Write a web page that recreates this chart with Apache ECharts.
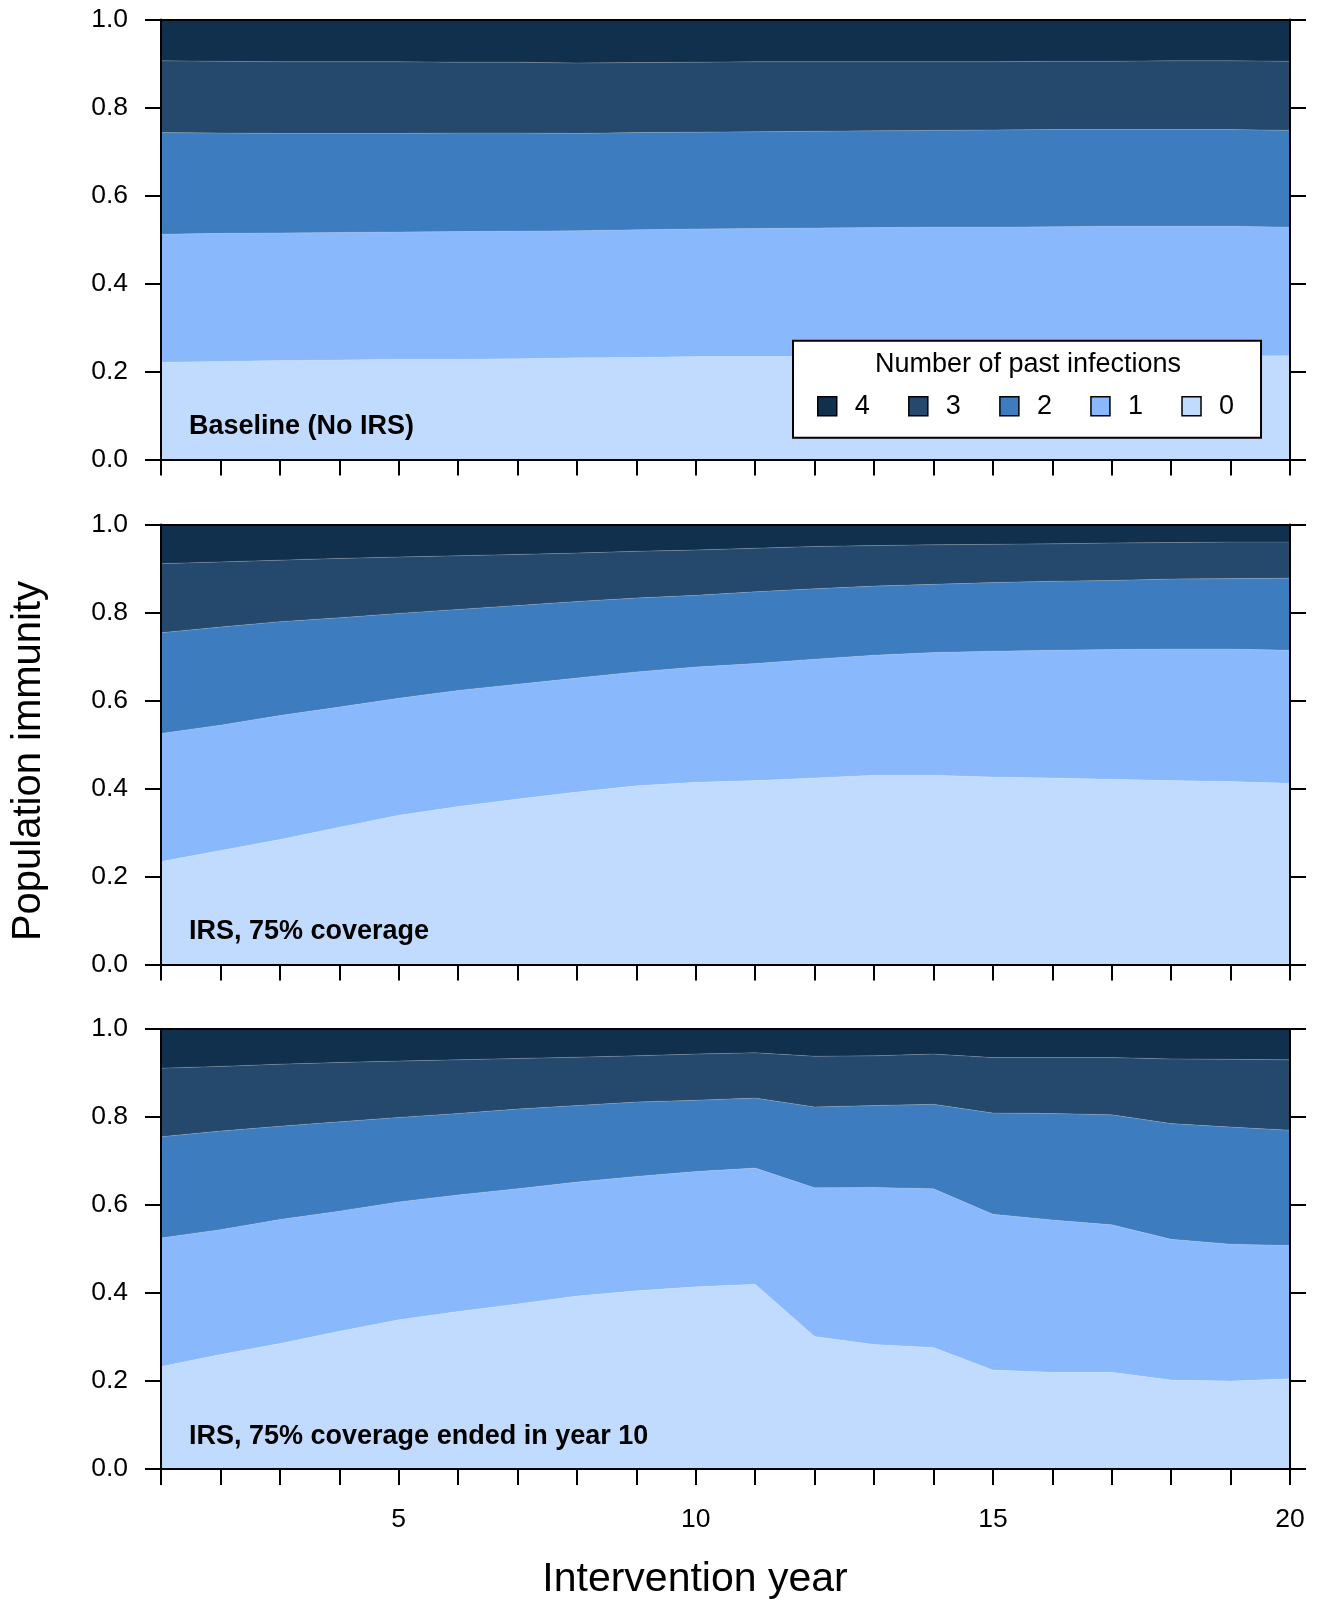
<!DOCTYPE html>
<html>
<head>
<meta charset="utf-8">
<script src="https://cdn.jsdelivr.net/npm/echarts@6/dist/echarts.min.js"></script>
<style>
html,body{margin:0;padding:0;background:#fff;}
#chart{width:1318px;height:1602px;}
</style>
</head>
<body>
<div id="chart"></div>
<script>
// ---- data ----
const years = ['1','2','3','4','5','6','7','8','9','10','11','12','13','14','15','16','17','18','19','20'];
const layerNames = ['0','1','2','3','4'];
const legendOrder = ['4','3','2','1','0'];
const panelTitles = ['Baseline (No IRS)', 'IRS, 75% coverage', 'IRS, 75% coverage ended in year 10'];
const yTicks = [0, 0.2, 0.4, 0.6, 0.8, 1.0];
const xLabelTicks = ['5', '10', '15', '20'];

// share of population by number of past infections (0..4)
const baseline0 = [.221,.223,.225,.226,.228,.228,.229,.231,.232,.234,.234,.234,.234,.234,.234,.234,.235,.235,.235,.236];
const baseline1 = [.291,.291,.290,.290,.289,.290,.290,.289,.290,.290,.291,.292,.293,.294,.294,.295,.295,.295,.295,.292];
const baseline2 = [.231,.228,.226,.225,.224,.224,.223,.221,.221,.220,.220,.220,.220,.220,.221,.221,.220,.220,.220,.220];
const baseline3 = [.163,.163,.163,.163,.163,.161,.161,.160,.159,.159,.159,.158,.157,.156,.155,.155,.155,.156,.156,.157];
const baseline4 = [.094,.095,.096,.096,.096,.097,.097,.099,.098,.097,.096,.096,.096,.096,.096,.095,.095,.094,.094,.095];

const irs0 = [.234,.259,.284,.312,.339,.359,.376,.392,.406,.414,.418,.424,.430,.430,.426,.424,.421,.418,.416,.412];
const irs1 = [.291,.285,.282,.273,.266,.264,.261,.259,.259,.262,.266,.270,.273,.279,.286,.290,.295,.299,.301,.302];
const irs2 = [.229,.223,.213,.203,.193,.184,.179,.174,.168,.163,.163,.160,.157,.155,.156,.157,.157,.159,.160,.164];
const irs3 = [.157,.148,.140,.135,.128,.122,.116,.110,.106,.103,.099,.096,.092,.090,.087,.085,.085,.083,.083,.082];
const irs4 = [.089,.085,.081,.077,.074,.071,.068,.065,.061,.058,.054,.050,.048,.046,.045,.044,.042,.041,.040,.040];

const ended0 = [.233,.260,.285,.313,.339,.358,.375,.393,.405,.414,.420,.301,.283,.276,.225,.220,.220,.202,.200,.205];
const ended1 = [.292,.284,.282,.273,.268,.265,.262,.259,.260,.262,.264,.338,.357,.361,.354,.346,.335,.320,.311,.303];
const ended2 = [.230,.224,.212,.203,.192,.185,.181,.174,.169,.162,.159,.184,.186,.192,.230,.242,.250,.263,.266,.262];
const ended3 = [.156,.147,.141,.135,.128,.122,.115,.110,.105,.105,.103,.115,.113,.114,.126,.127,.130,.147,.154,.160];
const ended4 = [.089,.085,.080,.076,.073,.070,.067,.064,.061,.057,.054,.062,.061,.057,.065,.065,.065,.068,.069,.070];

const panels = [
  [baseline0, baseline1, baseline2, baseline3, baseline4],
  [irs0, irs1, irs2, irs3, irs4],
  [ended0, ended1, ended2, ended3, ended4]
];

// ---- style ----
const colors = ['#c1dbfe', '#89b8fc', '#3d7dbf', '#24496d', '#11304e'];
const FONT = '"Liberation Sans", Arial, Helvetica, sans-serif';
const gridTops = [19.5, 524.5, 1029];
const gridLeft = 161, gridWidth = 1129, gridHeight = 440;
const axisLineStyle = {color: '#000', width: 2};

const grids = [], xAxes = [], yAxes = [], series = [], graphics = [];
panels.forEach((layers, p) => {
  grids.push({left: gridLeft, top: gridTops[p], width: gridWidth, height: gridHeight, containLabel: false});
  xAxes.push({
    type: 'category', data: years, boundaryGap: false, gridIndex: p, position: 'bottom', z: 10,
    axisLine: {show: true, onZero: false, lineStyle: axisLineStyle},
    axisTick: {show: true, length: 16, interval: 0, lineStyle: axisLineStyle},
    axisLabel: {show: p === 2, interval: 0, margin: 37, fontSize: 26.5, fontFamily: FONT, color: '#000',
      formatter: v => xLabelTicks.includes(String(v)) ? String(v) : ''},
    splitLine: {show: false}
  });
  xAxes.push({
    type: 'category', data: years, boundaryGap: false, gridIndex: p, position: 'top', z: 10,
    axisLine: {show: true, onZero: false, lineStyle: axisLineStyle},
    axisTick: {show: false}, axisLabel: {show: false}, splitLine: {show: false}
  });
  yAxes.push({
    type: 'value', gridIndex: p, min: 0, max: 1, interval: 0.2, position: 'left', z: 10,
    axisLine: {show: true, onZero: false, lineStyle: axisLineStyle},
    axisTick: {show: true, length: 16, lineStyle: axisLineStyle},
    axisLabel: {show: true, margin: 33, fontSize: 26.5, fontFamily: FONT, color: '#000',
      formatter: v => yTicks.some(t => Math.abs(t - v) < 1e-9) ? v.toFixed(1) : ''},
    splitLine: {show: false}
  });
  yAxes.push({
    type: 'value', gridIndex: p, min: 0, max: 1, interval: 0.2, position: 'right', z: 10,
    axisLine: {show: true, onZero: false, lineStyle: axisLineStyle},
    axisTick: {show: true, length: 16, lineStyle: axisLineStyle},
    axisLabel: {show: false}, splitLine: {show: false}
  });
  layers.forEach((vals, k) => {
    series.push({
      type: 'line', name: layerNames[k], stack: 'panel' + p,
      xAxisIndex: 2 * p, yAxisIndex: 2 * p,
      data: vals,
      symbol: 'none', showSymbol: false, smooth: false,
      lineStyle: {width: 0.8, color: 'rgba(255,255,255,0.22)'},
      itemStyle: {color: colors[k]},
      areaStyle: {color: colors[k], opacity: 1},
      z: 2
    });
  });
  graphics.push({
    type: 'text', x: 189, y: gridTops[p] + gridHeight - 32.5, z: 100,
    style: {text: panelTitles[p], font: 'bold 27px ' + FONT, fill: '#000', align: 'left', verticalAlign: 'middle'}
  });
});

graphics.push({
  type: 'text', x: 29, y: 761, rotation: Math.PI / 2, z: 100,
  style: {text: 'Population immunity', font: '40px ' + FONT, fill: '#000', align: 'center', verticalAlign: 'middle'}
});
graphics.push({
  type: 'text', x: 695, y: 1580, z: 100,
  style: {text: 'Intervention year', font: '41px ' + FONT, fill: '#000', align: 'center', verticalAlign: 'middle'}
});
graphics.push({
  type: 'text', x: 1028, y: 365, z: 100,
  style: {text: 'Number of past infections', font: '27px ' + FONT, fill: '#000', align: 'center', verticalAlign: 'middle'}
});

const option = {
  animation: false,
  backgroundColor: '#fff',
  grid: grids,
  xAxis: xAxes,
  yAxis: yAxes,
  legend: {
    data: legendOrder, selectedMode: false, orient: 'horizontal',
    left: 793, top: 340.7,
    padding: [52, 27, 18, 24],
    itemGap: 38.3, itemWidth: 19, itemHeight: 19, icon: 'rect',
    itemStyle: {borderColor: '#000', borderWidth: 1.5},
    backgroundColor: '#fff', borderColor: '#000', borderWidth: 2,
    textStyle: {fontSize: 27, fontFamily: FONT, color: '#000', lineHeight: 26, padding: [0, 0, 0, 13]},
    z: 20
  },
  graphic: graphics,
  series: series
};

const chart = echarts.init(document.getElementById('chart'), null, {renderer: 'canvas'});
chart.setOption(option);
</script>
</body>
</html>
